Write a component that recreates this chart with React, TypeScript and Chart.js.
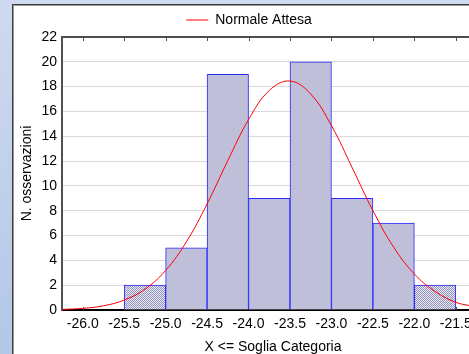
import React, { useEffect, useRef } from 'react';
import { Chart, registerables } from 'chart.js';

Chart.register(...registerables);

// Histogram bins (class centres, width 0.5) and observed counts
const binCenters = [-25.25, -24.75, -24.25, -23.75, -23.25, -22.75, -22.25, -21.75];
const binCounts = [2, 5, 19, 9, 20, 9, 7, 2];

// Expected normal curve
const curveX = [-26.25, -26.0, -25.75, -25.5, -25.25, -25.0, -24.75, -24.5, -24.25, -24.0, -23.75, -23.5, -23.25, -23.0, -22.75, -22.5, -22.25, -22.0, -21.75, -21.5, -21.25];
const curveY = [0.05, 0.13, 0.34, 0.8, 1.68, 3.19, 5.49, 8.55, 12.04, 15.34, 17.69, 18.45, 17.4, 14.86, 11.47, 8.01, 5.07, 2.9, 1.5, 0.62, 0.26];

// Axis ticks
const xTickValues = [-26.0, -25.5, -25.0, -24.5, -24.0, -23.5, -23.0, -22.5, -22.0, -21.5];
const xMin = -26.25;
const xMax = -21.16;
const yMin = 0;
const yMax = 22;
const yStep = 2;

const legendLabel = 'Normale Attesa';
const xTitle = 'X <= Soglia Categoria';
const yTitle = 'N. osservazioni';

const FONT = "'Liberation Sans', Arial, sans-serif";

function makePattern(): CanvasPattern | string {
  const c = document.createElement('canvas');
  c.width = 4;
  c.height = 4;
  const g = c.getContext('2d');
  if (!g) return '#c4c4dc';
  g.fillStyle = '#e8e8f2';
  g.fillRect(0, 0, 4, 4);
  g.fillStyle = '#9494bc';
  for (let y = 0; y < 4; y++) {
    for (let x = 0; x < 4; x++) {
      if ((x + y) % 2 === 0) g.fillRect(x, y, 1, 1);
    }
  }
  const p = g.createPattern(c, 'repeat');
  return p || '#c4c4dc';
}

const innerTicks = {
  id: 'innerTicks',
  beforeDatasetsDraw(chart: any) {
    const { ctx, chartArea, scales } = chart;
    ctx.save();
    ctx.strokeStyle = '#4d4d4d';
    ctx.lineWidth = 1;
    xTickValues.forEach((v) => {
      const px = Math.round(scales.x.getPixelForValue(v)) + 0.5;
      ctx.beginPath();
      ctx.moveTo(px, chartArea.top);
      ctx.lineTo(px, chartArea.top + 4);
      ctx.moveTo(px, chartArea.bottom);
      ctx.lineTo(px, chartArea.bottom - 3);
      ctx.stroke();
    });
    ctx.restore();
  },
};

export default function App() {
  const ref = useRef<HTMLCanvasElement>(null);

  useEffect(() => {
    if (!ref.current) return;
    const pattern = makePattern();
    const last = binCounts.length - 1;
    const chart = new Chart(ref.current, {
      type: 'bar',
      data: {
        datasets: [
          {
            type: 'line',
            label: legendLabel,
            data: curveX.map((x, i) => ({ x, y: curveY[i] })),
            borderColor: '#ff0000',
            backgroundColor: '#ff0000',
            borderWidth: 1,
            pointRadius: 0,
            pointStyle: 'line',
            tension: 0.4,
            fill: false,
            order: 0,
          } as any,
          {
            type: 'bar',
            label: 'Osservate',
            data: binCenters.map((x, i) => ({ x, y: binCounts[i] })),
            backgroundColor: (c: any) => (c.dataIndex === 0 || c.dataIndex === last ? pattern : '#bfbfd9'),
            borderColor: '#2828ff',
            borderWidth: 1,
            barPercentage: 1,
            categoryPercentage: 1,
            order: 1,
          } as any,
        ],
      },
      options: {
        animation: false,
        responsive: false,
        layout: { padding: 0 },
        font: { family: FONT },
        plugins: {
          tooltip: { enabled: false },
          legend: {
            position: 'top',
            labels: {
              font: { family: FONT, size: 14 },
              color: '#000',
              usePointStyle: true,
              pointStyleWidth: 22,
              padding: 7,
              filter: (item: any) => item.datasetIndex === 0,
            },
          },
        },
        scales: {
          x: {
            type: 'linear',
            min: xMin,
            max: xMax,
            offset: false,
            grid: { display: false, drawTicks: false },
            border: { display: true, color: '#000', width: 2 },
            afterBuildTicks: (axis: any) => {
              axis.ticks = xTickValues.map((value) => ({ value }));
            },
            afterFit: (axis: any) => {
              axis.height = 46;
            },
            ticks: {
              autoSkip: false,
              maxRotation: 0,
              padding: 6,
              color: '#000',
              font: { family: FONT, size: 14 },
              callback: (v: any) => Number(v).toFixed(1),
            },
            title: {
              display: true,
              text: xTitle,
              color: '#000',
              font: { family: FONT, size: 14 },
              padding: { top: 0, bottom: 0 },
            },
          },
          y: {
            type: 'linear',
            min: yMin,
            max: yMax,
            grid: {
              drawTicks: false,
              color: (c: any) =>
                c.tick.value === yMax ? '#4d4d4d' : c.tick.value === yMin ? 'rgba(0,0,0,0)' : '#d9d9d9',
              lineWidth: (c: any) => (c.tick.value === yMax ? 2 : 1),
            },
            border: { display: true, color: '#505050', width: 2 },
            afterFit: (axis: any) => {
              axis.width = 48;
            },
            ticks: {
              stepSize: yStep,
              padding: 5,
              color: '#000',
              font: { family: FONT, size: 14 },
            },
            title: {
              display: true,
              text: yTitle,
              color: '#000',
              font: { family: FONT, size: 14 },
              padding: { top: 5, bottom: 0 },
            },
          },
        },
      },
      plugins: [innerTicks],
    } as any);
    return () => chart.destroy();
  }, []);

  return (
    <div
      style={{
        position: 'fixed',
        left: 0,
        top: 0,
        width: 469,
        height: 354,
        overflow: 'hidden',
        background: 'linear-gradient(to bottom, #cfdaf0, #b3c7e7)',
      }}
    >
      <div
        style={{
          position: 'absolute',
          left: 12,
          top: 4,
          width: 490,
          height: 370,
          background: '#ffffff',
          borderTop: '1px solid #3c3c3c',
          borderLeft: '1px solid #3c3c3c',
          boxShadow: 'inset 1px 1px 0 #9a9a9a',
          boxSizing: 'border-box',
        }}
      />
      <canvas
        ref={ref}
        width={470}
        height={350}
        style={{ position: 'absolute', left: 14, top: 6, width: 470, height: 350 }}
      />
    </div>
  );
}
